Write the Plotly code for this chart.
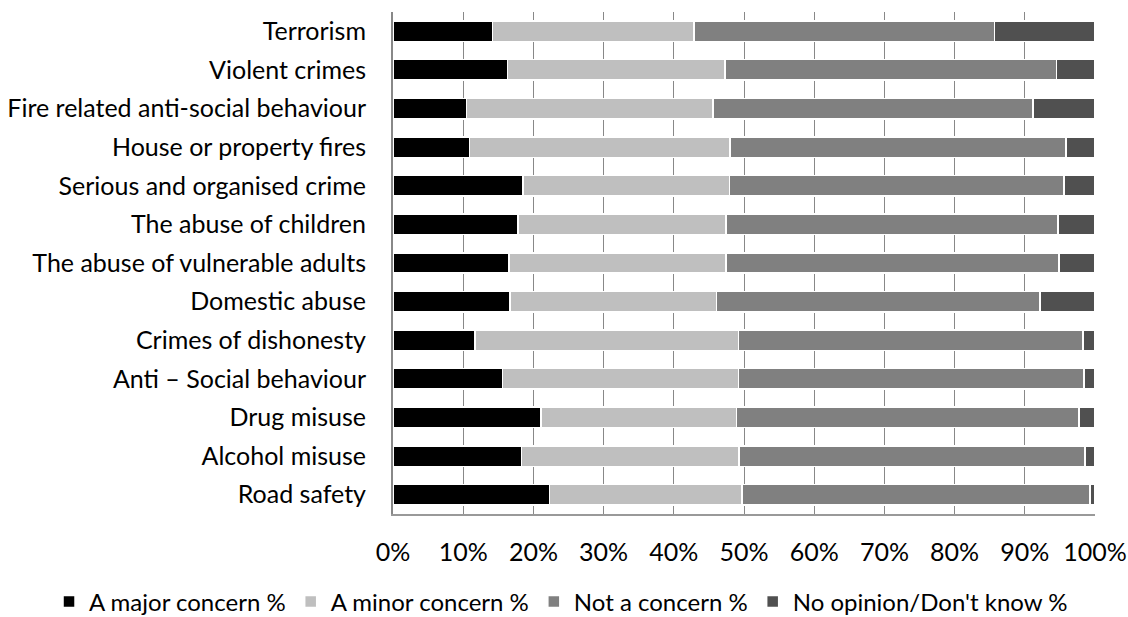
import plotly.graph_objects as go

categories = [
    "Terrorism",
    "Violent crimes",
    "Fire related anti-social behaviour",
    "House or property fires",
    "Serious and organised crime",
    "The abuse of children",
    "The abuse of vulnerable adults",
    "Domestic abuse",
    "Crimes of dishonesty",
    "Anti – Social behaviour",
    "Drug misuse",
    "Alcohol misuse",
    "Road safety",
]

major_concern = [14.2, 16.3, 10.5, 10.9, 18.5, 17.8, 16.5, 16.7, 11.7, 15.6, 21.1, 18.3, 22.3]
minor_concern = [28.7, 31.0, 35.1, 37.1, 29.4, 29.6, 30.9, 29.4, 37.5, 33.6, 27.8, 31.0, 27.4]
not_concern = [42.8, 47.2, 45.6, 47.9, 47.7, 47.3, 47.5, 46.1, 49.1, 49.2, 48.8, 49.3, 49.6]
no_opinion = [14.3, 5.5, 8.8, 4.1, 4.4, 5.3, 5.1, 7.8, 1.7, 1.6, 2.3, 1.4, 0.7]

series_names = ["A major concern %", "A minor concern %", "Not a concern %", "No opinion/Don't know %"]
series_values = [major_concern, minor_concern, not_concern, no_opinion]
series_colors = ["#000000", "#BFBFBF", "#808080", "#505050"]

tick_vals = [0, 10, 20, 30, 40, 50, 60, 70, 80, 90, 100]
tick_text = ["0%", "10%", "20%", "30%", "40%", "50%", "60%", "70%", "80%", "90%", "100%"]

FONT = "Lato"
FS = 25

fig = go.Figure()
for name, vals, col in zip(series_names, series_values, series_colors):
    fig.add_trace(go.Bar(
        y=categories, x=vals, name=name, orientation="h",
        marker=dict(color=col, line=dict(color="white", width=1.5)),
    ))

fig.update_layout(
    barmode="stack",
    bargap=0.47,
    width=1128, height=617,
    margin=dict(l=393, r=33, t=12, b=103, autoexpand=False),
    paper_bgcolor="white",
    plot_bgcolor="white",
    font=dict(family=FONT, size=FS, color="#000000"),
    showlegend=True,
    legend=dict(
        orientation="h", x=-0.49, xanchor="left",
        y=-0.175, yanchor="middle",
        font=dict(family=FONT, size=24, color="#000000"),
        traceorder="normal", itemwidth=30, tracegroupgap=0,
        bgcolor="rgba(0,0,0,0)",
    ),
    xaxis=dict(
        range=[0, 100], tickvals=tick_vals, ticktext=tick_text,
        showgrid=True, gridcolor="#888888", gridwidth=1,
        showline=True, linecolor="#999999", linewidth=1.5,
        ticks="", ticklabelstandoff=15, zeroline=False,
        tickfont=dict(family=FONT, size=FS),
        fixedrange=True,
    ),
    yaxis=dict(
        categoryorder="array", categoryarray=categories, autorange="reversed",
        showgrid=False, showline=True, linecolor="#888888", linewidth=2,
        ticks="", ticklabelstandoff=20,
        tickfont=dict(family=FONT, size=FS),
        fixedrange=True,
    ),
)

fig.write_html(
    "out.html",
    config={"displayModeBar": False},
    post_script="document.body.style.margin='0';document.body.style.overflow='hidden';",
)
